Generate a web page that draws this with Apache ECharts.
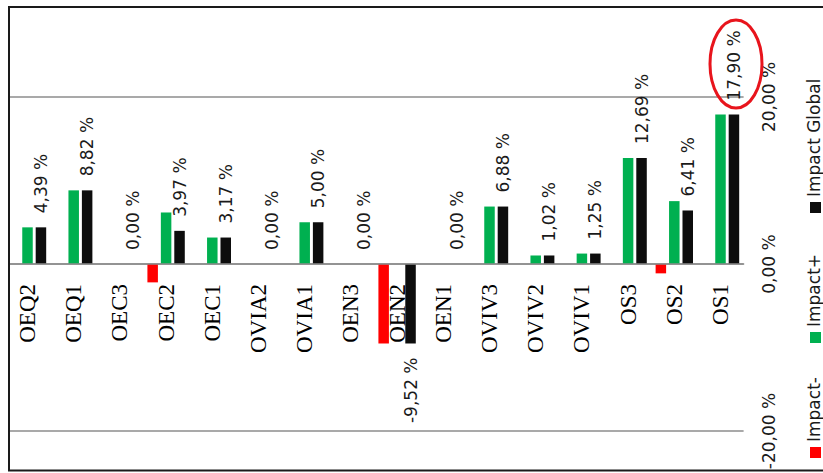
<!DOCTYPE html>
<html><head><meta charset="utf-8">
<script src="https://cdn.jsdelivr.net/npm/echarts@6/dist/echarts.min.js"></script>
<style>html,body{margin:0;padding:0;background:#fff;overflow:hidden;width:823px;height:473px;position:relative}
#c{position:absolute;left:0;top:-70px;width:823px;height:668px}</style>
</head><body><div id="c"></div>
<script>
const categories = ['OEQ2','OEQ1','OEC3','OEC2','OEC1','OVIA2','OVIA1','OEN3','OEN2','OEN1','OVIV3','OVIV2','OVIV1','OS3','OS2','OS1'];
const impactMinus  = [0, 0, 0, -2.20, 0, 0, 0, 0, -9.52, 0, 0, 0, 0, 0, -1.12, 0];
const impactPlus   = [4.39, 8.82, 0, 6.17, 3.17, 0, 5.00, 0, 0, 0, 6.88, 1.02, 1.25, 12.69, 7.53, 17.90];
const impactGlobal = [4.39, 8.82, 0, 3.97, 3.17, 0, 5.00, 0, -9.52, 0, 6.88, 1.02, 1.25, 12.69, 6.41, 17.90];
const seriesNames  = ['Impact-', 'Impact+', 'Impact Global'];
const seriesColors = ['#FF0000', '#00B050', '#0D0D0D'];
const axisMin = -40, axisMax = 40, axisStep = 20;
const shownTicks = [-20, 0, 20];

const fmt = v => Number(v).toFixed(2).replace('.', ',') + ' %';
const textColor = '#1a1a1a';
const OY = 70;          // the chart canvas starts 70px above the visible window
const CANVAS_H = 668;   // height of the chart canvas (grid fills it vertically)
// place the category axis on the value 0 of the value axis
const zeroOffset = -CANVAS_H * (0 - axisMin) / (axisMax - axisMin);

const chart = echarts.init(document.getElementById('c'), null, {renderer: 'svg'});

const barCommon = {type: 'bar', barWidth: 10.5, barGap: '28%', animation: false};

// legend drawn as rotated graphics
const legendSquares = [447, 332, 202];
const legendGraphics = [];
seriesNames.forEach((n, i) => {
  legendGraphics.push({type: 'rect', z: 50, shape: {x: 810, y: legendSquares[i] + OY, width: 11, height: 11}, style: {fill: seriesColors[i]}});
  legendGraphics.push({type: 'text', z: 50, x: 805, y: legendSquares[i] - 5 + OY, rotation: Math.PI / 2,
    style: {text: n, fontFamily: 'DejaVu Sans', fontSize: 17, fill: textColor, align: 'left', verticalAlign: 'top'}});
});

chart.setOption({
  animation: false,
  backgroundColor: '#fff',
  grid: {left: 4.4, right: 79.4, top: 0, bottom: 0, containLabel: false, outerBoundsMode: 'none'},
  xAxis: {
    type: 'category', data: categories, position: 'bottom', offset: zeroOffset, z: 5,
    axisLine: {onZero: false, lineStyle: {color: '#8c8c8c', width: 1.5}},
    axisTick: {show: false},
    axisLabel: {rotate: 90, margin: 20, interval: 0, fontFamily: 'Liberation Serif', fontSize: 23, color: '#000'}
  },
  yAxis: {
    type: 'value', position: 'right', min: axisMin, max: axisMax, interval: axisStep,
    axisLine: {show: false}, axisTick: {show: false},
    splitLine: {lineStyle: {color: '#8c8c8c', width: 1.5}},
    axisLabel: {rotate: 90, margin: 17, formatter: v => shownTicks.indexOf(v) >= 0 ? fmt(v) : '',
      fontFamily: 'DejaVu Sans', fontSize: 17, color: textColor}
  },
  series: [
    Object.assign({}, barCommon, {name: seriesNames[0], data: impactMinus, itemStyle: {color: seriesColors[0]}}),
    Object.assign({}, barCommon, {name: seriesNames[1], data: impactPlus, itemStyle: {color: seriesColors[1]}}),
    Object.assign({}, barCommon, {name: seriesNames[2], itemStyle: {color: seriesColors[2]},
      data: impactGlobal.map(v => ({value: v, label: v < 0 ? {position: 'bottom', align: 'right'} : {position: 'top', align: 'left'}})),
      label: {show: true, rotate: 90, verticalAlign: 'middle', distance: 14, formatter: p => fmt(p.value),
        fontFamily: 'DejaVu Sans', fontSize: 17, color: textColor}
    })
  ],
  graphic: [
    {type: 'rect', z: 100, shape: {x: 0, y: 0, width: 8, height: CANVAS_H}, style: {fill: '#fff'}},
    {type: 'rect', z: 100, shape: {x: 9, y: 7 + OY, width: 840, height: 463.5}, style: {fill: 'none', stroke: '#1a1a1a', lineWidth: 2}},
    {type: 'ellipse', z: 100, shape: {cx: 736, cy: 64 + OY, rx: 26, ry: 44}, style: {fill: 'none', stroke: '#E8141C', lineWidth: 3}}
  ].concat(legendGraphics)
});
</script></body></html>
